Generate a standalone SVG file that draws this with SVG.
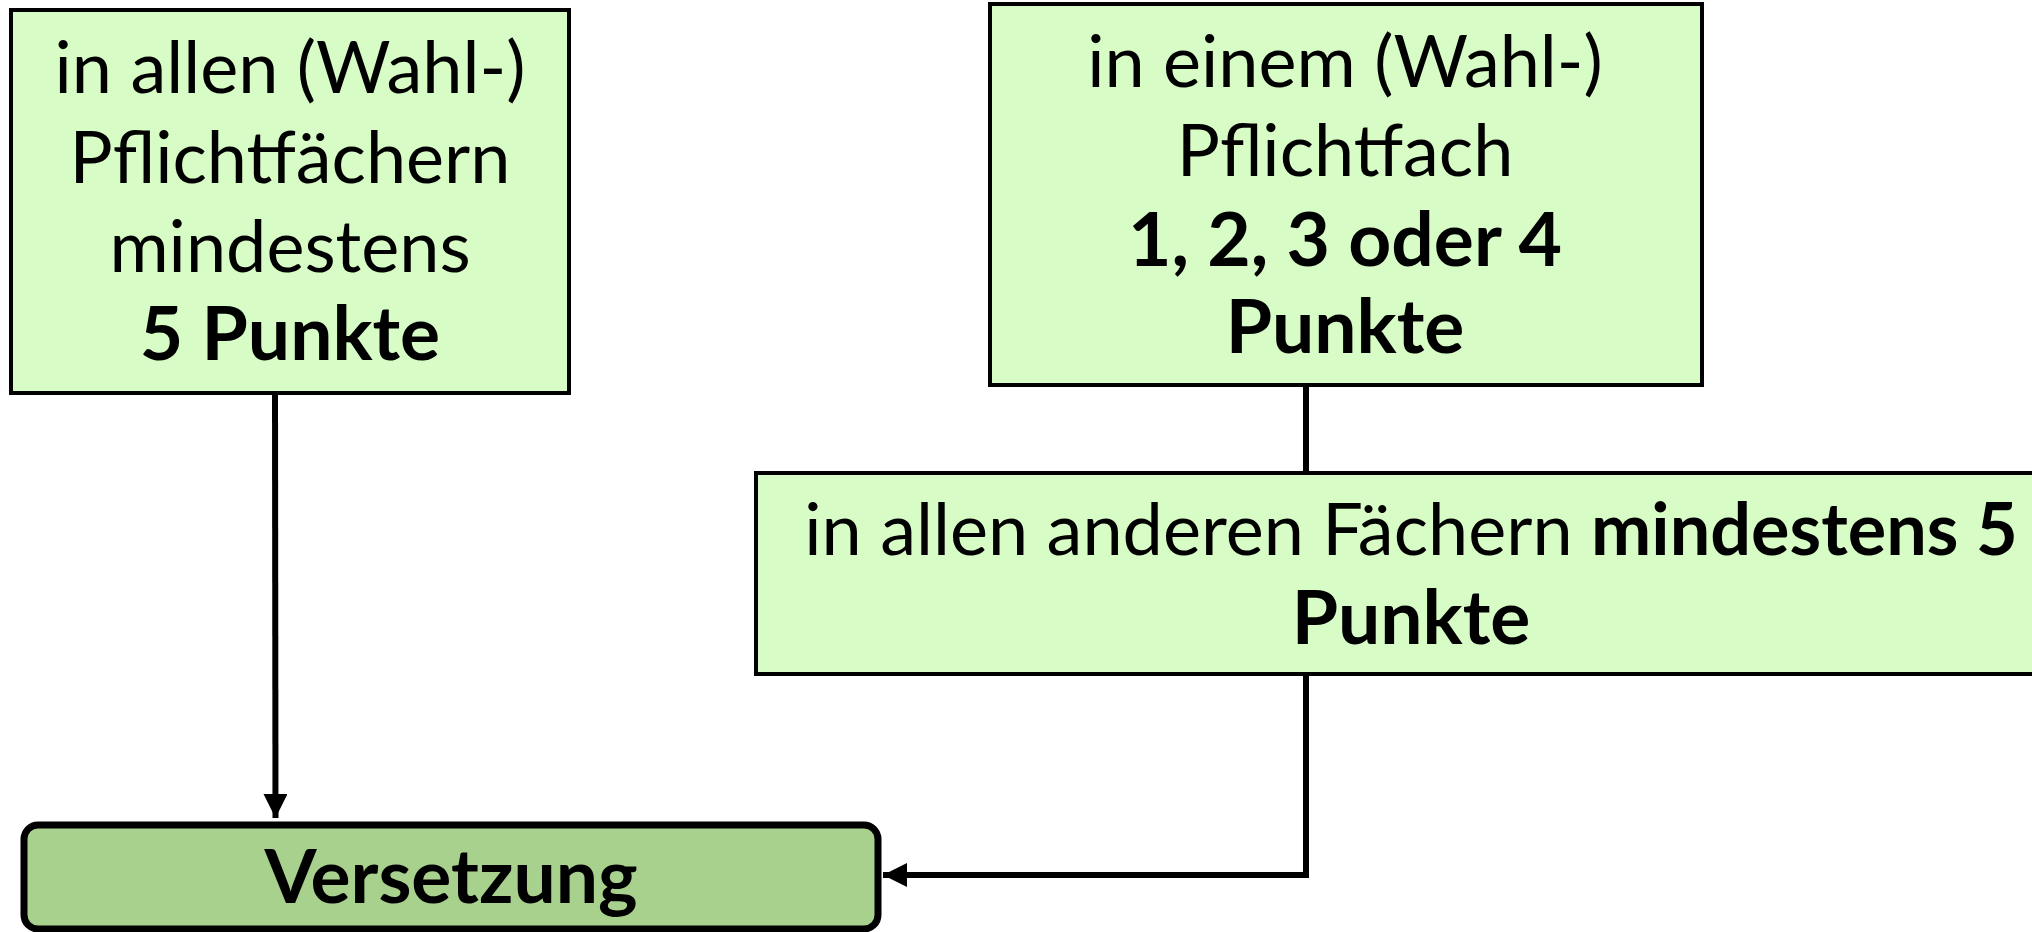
<svg xmlns="http://www.w3.org/2000/svg" width="2032" height="932" viewBox="0 0 2032 932">
<style>
.box{fill:#d8fcc6;stroke:#000;stroke-width:4}
.main{fill:#a9d18e;stroke:#000;stroke-width:7}
text{font-family:Lato,"Noto Sans","Liberation Sans",sans-serif;font-size:72px;fill:#000;text-anchor:middle}
.b{font-weight:bold;font-size:75px}
.conn{fill:none;stroke:#000;stroke-width:6}
</style>
<defs>
<marker id="arr" viewBox="0 0 10 10" refX="10" refY="5" markerWidth="4" markerHeight="4" orient="auto" markerUnits="strokeWidth">
<path d="M0,0 L10,5 L0,10 Z" fill="#000"/>
</marker>
</defs>
<rect width="2032" height="932" fill="#fff"/>
<g id="connectors">
<path class="conn" d="M275,393 L275.5,818" marker-end="url(#arr)"/>
<path class="conn" d="M1306,385 L1306,472"/>
<path class="conn" d="M1306,674 L1306,875 L883,875" marker-end="url(#arr)"/>
</g>
<g id="node1">
<rect class="box" x="11" y="10" width="558" height="383"/>
<text x="290" y="93">in allen (Wahl-)</text>
<text x="290" y="183">Pflichtfächern</text>
<text x="290" y="272">mindestens</text>
<text x="290" y="360" class="b">5 Punkte</text>
</g>
<g id="node2">
<rect class="box" x="990" y="4" width="712" height="381"/>
<text x="1345" y="87">in einem (Wahl-)</text>
<text x="1345" y="176">Pflichtfach</text>
<text x="1345" y="266" class="b">1, 2, 3 oder 4</text>
<text x="1345" y="353" class="b">Punkte</text>
</g>
<g id="node3">
<rect class="box" x="756" y="473" width="1320" height="201"/>
<text x="1411" y="555">in allen anderen Fächern <tspan style="font-weight:bold">mindestens 5</tspan></text>
<text x="1411" y="644" class="b">Punkte</text>
</g>
<g id="node4">
<rect class="main" x="24" y="825" width="854" height="104" rx="14" ry="14"/>
<text x="451" y="903" class="b">Versetzung</text>
</g>
</svg>
